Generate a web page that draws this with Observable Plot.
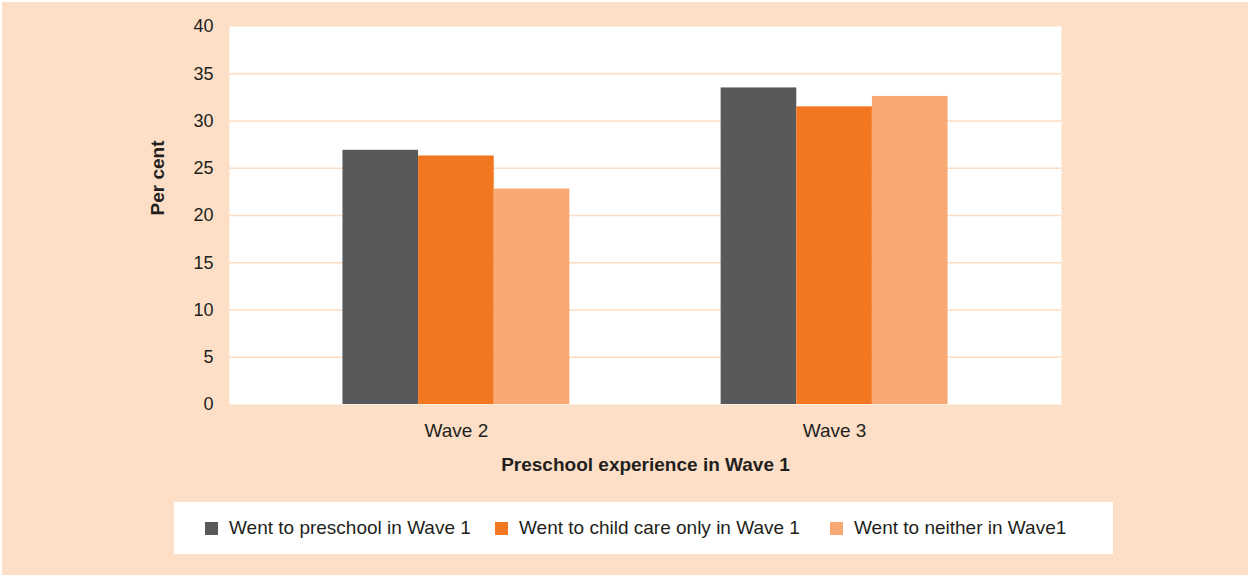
<!DOCTYPE html>
<html>
<head>
<meta charset="utf-8">
<script src="https://cdn.jsdelivr.net/npm/d3@7"></script>
<script src="https://cdn.jsdelivr.net/npm/@observablehq/plot@0.6"></script>
<style>
  html, body { margin: 0; padding: 0; background: #ffffff; }
  #page { position: absolute; left: 2px; top: 2px; width: 1246px; height: 573px; background: #FDDFC7; overflow: hidden; font-family: "Liberation Sans", Arial, sans-serif; }
  #chart { position: absolute; left: 0; top: 0; }
  #legend { position: absolute; left: 172px; top: 500px; width: 939px; height: 52px; background: #ffffff; }
  .item { position: absolute; top: 0; height: 52px; display: flex; align-items: center; font-size: 19px; color: #231F20; white-space: nowrap; }
  .sw { width: 13px; height: 13px; margin-right: 11px; flex: none; }
</style>
</head>
<body>
<div id="page">
  <div id="chart"></div>
  <div id="legend"></div>
</div>
<script>
// ---- data ----
const waves = ["Wave 2", "Wave 3"];
const groups = ["Went to preschool in Wave 1", "Went to child care only in Wave 1", "Went to neither in Wave1"];
const preschool = [26.9, 33.5];
const childCareOnly = [26.3, 31.5];
const neither = [22.8, 32.6];
const yTicks = [0, 5, 10, 15, 20, 25, 30, 35, 40];
const colors = ["#58595B", "#F37721", "#F8A872"];

const seriesValues = [preschool, childCareOnly, neither];
const rows = [];
waves.forEach((w, wi) => {
  groups.forEach((g, gi) => {
    rows.push({wave: w, group: g, value: seriesValues[gi][wi], key: w + "|" + g});
  });
});

// band domain: three bars per wave, with two empty spacer bands between the waves
const xDomain = [
  ...groups.map(g => waves[0] + "|" + g),
  "spacer-a", "spacer-b",
  ...groups.map(g => waves[1] + "|" + g)
];
const midKeys = waves.map(w => w + "|" + groups[1]);

const ink = "#231F20";

const chart = Plot.plot({
  width: 1246,
  height: 490,
  marginLeft: 227,
  marginRight: 187,
  marginTop: 24,
  marginBottom: 88,
  style: {background: "transparent", fontFamily: "'Liberation Sans', Arial, sans-serif", color: ink},
  x: {domain: xDomain, paddingInner: 0, paddingOuter: 1.5, round: false, axis: null},
  y: {domain: [0, 40], axis: null},
  color: {domain: groups, range: colors},
  marks: [
    Plot.frame({fill: "white", stroke: "none"}),
    Plot.ruleY(yTicks.filter(t => t > 0 && t < 40), {stroke: "#FCDCC2", strokeWidth: 1.3}),
    Plot.barY(rows, {x: "key", y: "value", fill: "group", inset: 0}),
    Plot.axisY({ticks: yTicks, tickSize: 0, tickPadding: 16, fontSize: 18, label: null, color: ink}),
    Plot.axisX({ticks: midKeys, tickFormat: k => k.split("|")[0], tickSize: 0, tickPadding: 19, fontSize: 19, label: null, color: ink}),
    Plot.text(["Per cent"], {text: d => d, frameAnchor: "left", dx: -72, rotate: -90, fontWeight: "bold", fontSize: 19, fill: ink}),
    Plot.text(["Preschool experience in Wave 1"], {text: d => d, frameAnchor: "bottom", dy: 66, fontWeight: "bold", fontSize: 19, fill: ink})
  ]
});
document.getElementById("chart").appendChild(chart);

// legend
const legendOffsets = [31, 321, 656];
const legend = document.getElementById("legend");
groups.forEach((g, i) => {
  const item = document.createElement("div");
  item.className = "item";
  item.style.left = legendOffsets[i] + "px";
  const sw = document.createElement("span");
  sw.className = "sw";
  sw.style.background = colors[i];
  const label = document.createElement("span");
  label.textContent = g;
  item.appendChild(sw);
  item.appendChild(label);
  legend.appendChild(item);
});
</script>
</body>
</html>
